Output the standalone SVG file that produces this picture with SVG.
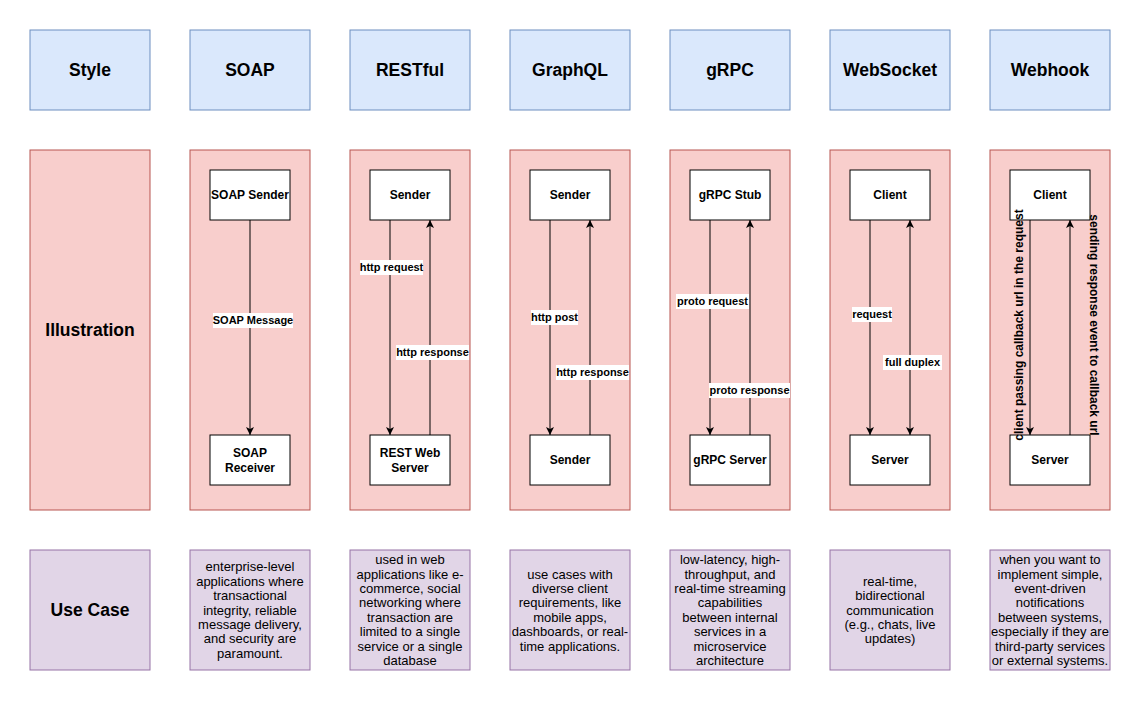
<svg xmlns="http://www.w3.org/2000/svg" width="1141" height="701" viewBox="0 0 1141 701">
<style>
text{font-family:"Liberation Sans",Arial,Helvetica,sans-serif;fill:#000;text-anchor:middle}
.hd{fill:#dae8fc;stroke:#6c8ebf;stroke-width:1}
.il{fill:#f8cecc;stroke:#b85450;stroke-width:1}
.uc{fill:#e1d5e7;stroke:#9673a6;stroke-width:1}
.nd{fill:#fff;stroke:#000;stroke-width:1}
.ht{font-size:17.5px;font-weight:bold}
.nt{font-size:12px;font-weight:bold}
.rt{font-size:12px;font-weight:bold}
.ut{font-size:13px}
.et{font-size:11px;font-weight:bold}
.lb{fill:#fff}
.ln{stroke:#000;stroke-width:1;fill:none}
</style>
<defs>
<marker id="ah" markerWidth="10" markerHeight="10" refX="8" refY="4" orient="auto" markerUnits="userSpaceOnUse">
<path d="M0,0 L8,4 L0,8 L2,4 z" fill="#000"/>
</marker>
<marker id="as" markerWidth="10" markerHeight="10" refX="0" refY="4" orient="auto" markerUnits="userSpaceOnUse">
<path d="M8,0 L0,4 L8,8 L6,4 z" fill="#000"/>
</marker>
</defs>
<rect width="1141" height="701" fill="#fff"/>

<g id="headers">
<g id="h-style"><rect class="hd" x="30" y="30" width="120" height="80"/><text class="ht" x="90" y="76">Style</text></g>
<g id="h-soap"><rect class="hd" x="190" y="30" width="120" height="80"/><text class="ht" x="250" y="76">SOAP</text></g>
<g id="h-rest"><rect class="hd" x="350" y="30" width="120" height="80"/><text class="ht" x="410" y="76">RESTful</text></g>
<g id="h-graphql"><rect class="hd" x="510" y="30" width="120" height="80"/><text class="ht" x="570" y="76">GraphQL</text></g>
<g id="h-grpc"><rect class="hd" x="670" y="30" width="120" height="80"/><text class="ht" x="730" y="76">gRPC</text></g>
<g id="h-ws"><rect class="hd" x="830" y="30" width="120" height="80"/><text class="ht" x="890" y="76">WebSocket</text></g>
<g id="h-webhook"><rect class="hd" x="990" y="30" width="120" height="80"/><text class="ht" x="1050" y="76">Webhook</text></g>
</g>

<g id="illustration">
<g id="i-label"><rect class="il" x="30" y="150" width="120" height="360"/><text class="ht" x="90" y="336">Illustration</text></g>
<g id="i-soap"><rect class="il" x="190" y="150" width="120" height="360"/></g>
<g id="i-rest"><rect class="il" x="350" y="150" width="120" height="360"/></g>
<g id="i-graphql"><rect class="il" x="510" y="150" width="120" height="360"/></g>
<g id="i-grpc"><rect class="il" x="670" y="150" width="120" height="360"/></g>
<g id="i-ws"><rect class="il" x="830" y="150" width="120" height="360"/></g>
<g id="i-webhook"><rect class="il" x="990" y="150" width="120" height="360"/></g>
</g>

<g id="nodes">
<g id="soap-sender"><rect class="nd" x="210" y="170" width="80" height="50"/><text class="nt" x="250" y="199">SOAP Sender</text></g>
<g id="soap-receiver"><rect class="nd" x="210" y="435" width="80" height="50"/><text class="nt" x="250" y="456.5">SOAP</text><text class="nt" x="250" y="471.5">Receiver</text></g>
<g id="rest-sender"><rect class="nd" x="370" y="170" width="80" height="50"/><text class="nt" x="410" y="199">Sender</text></g>
<g id="rest-server"><rect class="nd" x="370" y="435" width="80" height="50"/><text class="nt" x="410" y="456.5">REST Web</text><text class="nt" x="410" y="471.5">Server</text></g>
<g id="gql-sender"><rect class="nd" x="530" y="170" width="80" height="50"/><text class="nt" x="570" y="199">Sender</text></g>
<g id="gql-sender2"><rect class="nd" x="530" y="435" width="80" height="50"/><text class="nt" x="570" y="464">Sender</text></g>
<g id="grpc-stub"><rect class="nd" x="690" y="170" width="80" height="50"/><text class="nt" x="730" y="199">gRPC Stub</text></g>
<g id="grpc-server"><rect class="nd" x="690" y="435" width="80" height="50"/><text class="nt" x="730" y="464">gRPC Server</text></g>
<g id="ws-client"><rect class="nd" x="850" y="170" width="80" height="50"/><text class="nt" x="890" y="199">Client</text></g>
<g id="ws-server"><rect class="nd" x="850" y="435" width="80" height="50"/><text class="nt" x="890" y="464">Server</text></g>
<g id="wh-client"><rect class="nd" x="1010" y="170" width="80" height="50"/><text class="nt" x="1050" y="199">Client</text></g>
<g id="wh-server"><rect class="nd" x="1010" y="435" width="80" height="50"/><text class="nt" x="1050" y="464">Server</text></g>
</g>

<g id="connectors">
<line class="ln" x1="250" y1="220" x2="250" y2="435" marker-end="url(#ah)"/>
<line class="ln" x1="390" y1="220" x2="390" y2="435" marker-end="url(#ah)"/>
<line class="ln" x1="430" y1="435" x2="430" y2="220" marker-end="url(#ah)"/>
<line class="ln" x1="550" y1="220" x2="550" y2="435" marker-end="url(#ah)"/>
<line class="ln" x1="590" y1="435" x2="590" y2="220" marker-end="url(#ah)"/>
<line class="ln" x1="710" y1="220" x2="710" y2="435" marker-end="url(#ah)"/>
<line class="ln" x1="750" y1="435" x2="750" y2="220" marker-end="url(#ah)"/>
<line class="ln" x1="870" y1="220" x2="870" y2="435" marker-end="url(#ah)"/>
<line class="ln" x1="910" y1="220" x2="910" y2="435" marker-start="url(#as)" marker-end="url(#ah)"/>
<line class="ln" x1="1030" y1="220" x2="1030" y2="435" marker-end="url(#ah)"/>
<line class="ln" x1="1070" y1="435" x2="1070" y2="220" marker-end="url(#ah)"/>

<g id="edge-labels">
<rect class="lb" x="213" y="313" width="80" height="15"/><text class="et" x="253" y="324">SOAP Message</text>
<rect class="lb" x="360" y="260" width="63" height="15"/><text class="et" x="391.5" y="271">http request</text>
<rect class="lb" x="396" y="345" width="73" height="15"/><text class="et" x="432.5" y="356">http response</text>
<rect class="lb" x="531" y="310" width="47" height="15"/><text class="et" x="554.5" y="321">http post</text>
<rect class="lb" x="556" y="365" width="73" height="15"/><text class="et" x="592.5" y="376">http response</text>
<rect class="lb" x="676" y="294" width="73" height="15"/><text class="et" x="712.5" y="305">proto request</text>
<rect class="lb" x="709" y="383" width="81" height="15"/><text class="et" x="749.5" y="394">proto response</text>
<rect class="lb" x="852" y="307" width="40" height="15"/><text class="et" x="872" y="318">request</text>
<rect class="lb" x="883" y="355" width="59" height="15"/><text class="et" x="912.5" y="366">full duplex</text>
<text class="rt" transform="translate(1018.5,325) rotate(-90)" y="4.5">client passing callback url in the request</text>
<text class="rt" transform="translate(1094.5,325) rotate(90)" y="4.5">sending response event to callback url</text>
</g>
</g>

<g id="usecase">
<g id="u-label"><rect class="uc" x="30" y="550" width="120" height="120"/><text class="ht" x="90" y="616">Use Case</text></g>
<g id="u-soap"><rect class="uc" x="190" y="550" width="120" height="120"/>
<text class="ut" x="250" y="571.3">enterprise-level</text>
<text class="ut" x="250" y="585.7">applications where</text>
<text class="ut" x="250" y="600.1">transactional</text>
<text class="ut" x="250" y="614.5">integrity, reliable</text>
<text class="ut" x="250" y="628.9">message delivery,</text>
<text class="ut" x="250" y="643.3">and security are</text>
<text class="ut" x="250" y="657.7">paramount.</text>
</g>
<g id="u-rest"><rect class="uc" x="350" y="550" width="120" height="120"/>
<text class="ut" x="410" y="564.1">used in web</text>
<text class="ut" x="410" y="578.5">applications like e-</text>
<text class="ut" x="410" y="592.9">commerce, social</text>
<text class="ut" x="410" y="607.3">networking where</text>
<text class="ut" x="410" y="621.7">transaction are</text>
<text class="ut" x="410" y="636.1">limited to a single</text>
<text class="ut" x="410" y="650.5">service or a single</text>
<text class="ut" x="410" y="664.9">database</text>
</g>
<g id="u-graphql"><rect class="uc" x="510" y="550" width="120" height="120"/>
<text class="ut" x="570" y="578.5">use cases with</text>
<text class="ut" x="570" y="592.9">diverse client</text>
<text class="ut" x="570" y="607.3">requirements, like</text>
<text class="ut" x="570" y="621.7">mobile apps,</text>
<text class="ut" x="570" y="636.1">dashboards, or real-</text>
<text class="ut" x="570" y="650.5">time applications.</text>
</g>
<g id="u-grpc"><rect class="uc" x="670" y="550" width="120" height="120"/>
<text class="ut" x="730" y="564.1">low-latency, high-</text>
<text class="ut" x="730" y="578.5">throughput, and</text>
<text class="ut" x="730" y="592.9">real-time streaming</text>
<text class="ut" x="730" y="607.3">capabilities</text>
<text class="ut" x="730" y="621.7">between internal</text>
<text class="ut" x="730" y="636.1">services in a</text>
<text class="ut" x="730" y="650.5">microservice</text>
<text class="ut" x="730" y="664.9">architecture</text>
</g>
<g id="u-ws"><rect class="uc" x="830" y="550" width="120" height="120"/>
<text class="ut" x="890" y="585.7">real-time,</text>
<text class="ut" x="890" y="600.1">bidirectional</text>
<text class="ut" x="890" y="614.5">communication</text>
<text class="ut" x="890" y="628.9">(e.g., chats, live</text>
<text class="ut" x="890" y="643.3">updates)</text>
</g>
<g id="u-webhook"><rect class="uc" x="990" y="550" width="120" height="120"/>
<text class="ut" x="1050" y="564.1">when you want to</text>
<text class="ut" x="1050" y="578.5">implement simple,</text>
<text class="ut" x="1050" y="592.9">event-driven</text>
<text class="ut" x="1050" y="607.3">notifications</text>
<text class="ut" x="1050" y="621.7">between systems,</text>
<text class="ut" x="1050" y="636.1">especially if they are</text>
<text class="ut" x="1050" y="650.5">third-party services</text>
<text class="ut" x="1050" y="664.9">or external systems.</text>
</g>
</g>
</svg>
